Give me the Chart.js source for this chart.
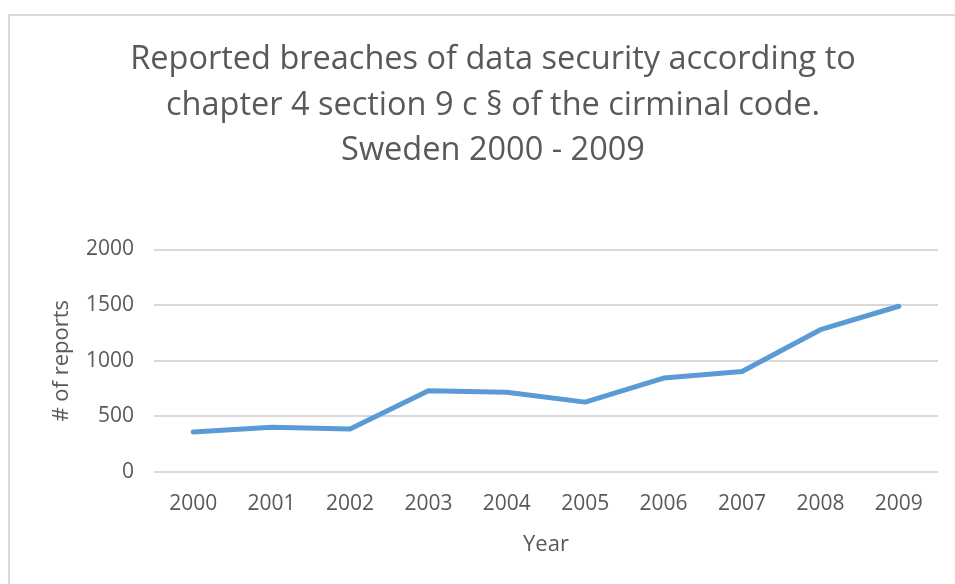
<!DOCTYPE html>
<html lang="en">

<head>
    <meta charset="UTF-8">
    <title>Reported breaches of data security - Sweden 2000 - 2009</title>
    <script src="https://cdn.jsdelivr.net/npm/chart.js"></script>
    <style>
        body {
            margin: 0;
            background: #fff;
        }

        .frame {
            position: absolute;
            left: 8px;
            top: 14px;
            width: 960px;
            height: 600px;
            border: 2px solid #d9d9d9;
        }

        .chart-box {
            position: absolute;
            left: 0;
            top: 0;
            width: 955px;
            height: 584px;
        }
    </style>
</head>

<body>
    <div class="frame"></div>
    <div class="chart-box"><canvas id="breachChart"></canvas></div>
    <script>
        const years = ['2000', '2001', '2002', '2003', '2004', '2005', '2006', '2007', '2008', '2009'];
        const reports = [360, 402, 387, 730, 716, 628, 844, 904, 1279, 1490];
        const titleLines = [
            'Reported breaches of data security according to',
            'chapter 4 section 9 c § of the cirminal code.',
            'Sweden 2000 - 2009'
        ];

        const textGray = '#595959';
        const gridGray = '#d9d9d9';

        const ctx = document.getElementById('breachChart').getContext('2d');

        new Chart(ctx, {
            type: 'line',
            data: {
                labels: years,
                datasets: [{
                    label: '# of reports',
                    data: reports,
                    borderColor: '#5b9bd5',
                    backgroundColor: '#5b9bd5',
                    borderWidth: 5,
                    borderCapStyle: 'round',
                    borderJoinStyle: 'round',
                    pointRadius: 0,
                    tension: 0
                }]
            },
            options: {
                responsive: true,
                maintainAspectRatio: false,
                animation: false,
                layout: {
                    padding: { left: 48, right: 17, top: 0, bottom: 0 }
                },
                plugins: {
                    legend: { display: false },
                    tooltip: { enabled: false },
                    title: {
                        display: true,
                        text: titleLines,
                        color: textGray,
                        font: { family: 'Open Sans', size: 32.5, weight: 'normal', lineHeight: 1.4 },
                        padding: { top: 37, bottom: 76 }
                    }
                },
                scales: {
                    x: {
                        offset: true,
                        afterFit: (scale) => { scale.height = 112; },
                        grid: { display: false, drawTicks: false },
                        border: { display: false },
                        ticks: {
                            color: textGray,
                            font: { family: 'Open Sans', size: 21 },
                            padding: 19,
                            maxRotation: 0
                        },
                        title: {
                            display: true,
                            text: 'Year',
                            color: textGray,
                            font: { family: 'Open Sans', size: 22 },
                            padding: { top: 0, bottom: 26 }
                        }
                    },
                    y: {
                        min: 0,
                        max: 2000,
                        afterFit: (scale) => { scale.width = 106; },
                        grid: { color: gridGray, lineWidth: 2, drawTicks: false },
                        border: { display: false },
                        ticks: {
                            stepSize: 500,
                            color: textGray,
                            font: { family: 'Open Sans', size: 21 },
                            padding: 20,
                            callback: (value) => String(value)
                        },
                        title: {
                            display: true,
                            text: '# of reports',
                            color: textGray,
                            font: { family: 'Open Sans', size: 22 },
                            padding: { top: 1, bottom: 0 }
                        }
                    }
                }
            }
        });
    </script>
</body>

</html>
